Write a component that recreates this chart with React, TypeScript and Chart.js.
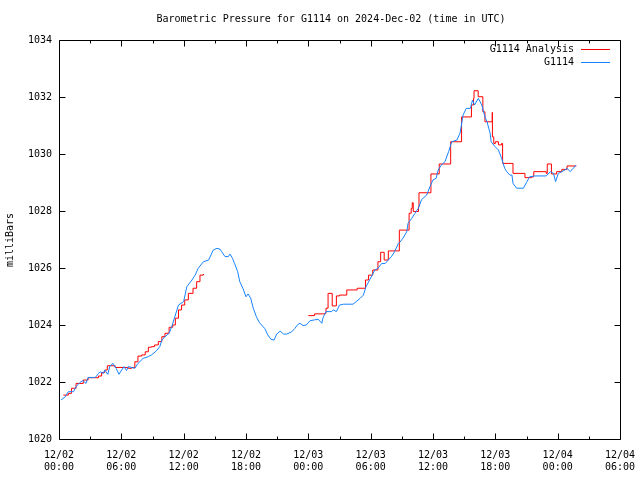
import React, { useEffect, useRef } from 'react';
import { Chart, registerables } from 'chart.js';

Chart.register(...registerables);

const TITLE = 'Barometric Pressure for G1114 on 2024-Dec-02 (time in UTC)';
const Y_LABEL = 'milliBars';
const ANALYSIS_LABEL = 'G1114 Analysis';
const OBS_LABEL = 'G1114';
const ANALYSIS_COLOR = '#ff0000';
const OBS_COLOR = '#1583ff';

// x axis: hours since 2024-12-02 00:00 UTC
const X_MIN = 0;
const X_MAX = 54;
const DATE_LABELS = ['12/02', '12/02', '12/02', '12/02', '12/03', '12/03', '12/03', '12/03', '12/04', '12/04'];
const TIME_LABELS = ['00:00', '06:00', '12:00', '18:00', '00:00', '06:00', '12:00', '18:00', '00:00', '06:00'];
const Y_MIN = 1020;
const Y_MAX = 1034;
const Y_STEP = 2;

// [hour, mBar]; null marks the gap in the analysis
const analysisSeries: [number, number | null][] = [
  [0.42, 1021.54], [0.9, 1021.6], [1.2, 1021.78], [1.64, 1021.95], [2.0, 1021.95],
  [2.34, 1022.07], [2.8, 1022.15], [3.8, 1022.21], [4.1, 1022.33], [4.4, 1022.42],
  [4.65, 1022.57], [5.2, 1022.57], [5.4, 1022.51], [6.3, 1022.51], [6.67, 1022.48],
  [7.0, 1022.51], [7.3, 1022.71], [7.6, 1022.91], [7.96, 1022.95], [8.3, 1023.06],
  [8.6, 1023.22], [8.9, 1023.24], [9.2, 1023.3], [9.56, 1023.42], [9.9, 1023.59],
  [10.2, 1023.71], [10.6, 1023.92], [10.95, 1024.0], [11.2, 1024.24], [11.5, 1024.53],
  [11.8, 1024.7], [12.1, 1024.88], [12.45, 1025.11], [12.9, 1025.29], [13.25, 1025.52],
  [13.57, 1025.75], [13.9, 1025.79],
  [19.0, null],
  [24.0, 1024.33], [24.6, 1024.39], [25.6, 1024.41], [25.7, 1024.59], [25.9, 1025.11],
  [26.3, 1024.67], [26.7, 1025.02], [27.0, 1025.05], [27.7, 1025.23], [28.7, 1025.29],
  [29.5, 1025.58], [29.8, 1025.75], [30.2, 1025.93], [30.7, 1026.22], [30.96, 1026.55],
  [31.3, 1026.28], [31.7, 1026.6], [32.76, 1027.33], [33.7, 1027.92], [33.9, 1028.09],
  [34.0, 1028.29], [34.1, 1027.98], [34.6, 1028.15], [34.65, 1028.64], [35.8, 1029.3],
  [36.6, 1029.65], [37.7, 1030.43], [38.75, 1031.3], [39.7, 1031.72], [39.9, 1031.95],
  [39.95, 1032.22], [40.35, 1032.01], [40.8, 1031.48], [41.0, 1031.13], [41.7, 1031.46],
  [41.72, 1030.6], [41.85, 1030.37], [42.0, 1030.43], [42.3, 1030.32], [42.6, 1030.37],
  [42.7, 1029.67], [43.7, 1029.32], [44.85, 1029.17], [45.5, 1029.2], [45.7, 1029.38],
  [46.9, 1029.32], [47.0, 1029.65], [47.4, 1029.3], [47.9, 1029.38], [48.4, 1029.46],
  [48.9, 1029.58], [49.8, 1029.58],
];

const obsSeries: [number, number][] = [
  [0.2, 1021.37], [0.6, 1021.48], [0.9, 1021.66], [1.4, 1021.66], [1.65, 1021.84],
  [2.0, 1021.98], [2.3, 1022.05], [2.6, 1021.95], [2.8, 1022.16], [3.5, 1022.16],
  [3.8, 1022.3], [3.95, 1022.36], [4.27, 1022.3], [4.4, 1022.42], [4.7, 1022.27],
  [4.9, 1022.56], [5.2, 1022.65], [5.5, 1022.48], [5.77, 1022.27], [6.03, 1022.42],
  [6.26, 1022.54], [6.5, 1022.4], [6.67, 1022.54], [7.3, 1022.48], [7.6, 1022.65],
  [8.1, 1022.83], [8.6, 1022.89], [8.9, 1022.95], [9.4, 1023.1], [9.7, 1023.24],
  [9.9, 1023.47], [10.2, 1023.59], [10.6, 1023.71], [10.85, 1023.94], [11.2, 1024.35],
  [11.5, 1024.7], [12.0, 1024.82], [12.3, 1025.34], [12.8, 1025.58], [13.1, 1025.75],
  [13.4, 1025.99], [13.9, 1026.22], [14.4, 1026.28], [14.85, 1026.63], [15.2, 1026.69],
  [15.5, 1026.66], [15.66, 1026.57], [15.98, 1026.4], [16.3, 1026.4], [16.46, 1026.49],
  [16.7, 1026.34], [16.9, 1026.16], [17.2, 1025.87], [17.4, 1025.52], [17.7, 1025.29],
  [18.0, 1024.99], [18.2, 1025.09], [18.45, 1024.94], [18.7, 1024.59], [19.0, 1024.29],
  [19.3, 1024.08], [19.8, 1023.88], [20.1, 1023.65], [20.4, 1023.5], [20.7, 1023.47],
  [20.95, 1023.68], [21.3, 1023.79], [21.6, 1023.68], [21.9, 1023.68], [22.4, 1023.76],
  [22.7, 1023.88], [23.0, 1024.02], [23.2, 1024.06], [23.5, 1023.98], [23.8, 1024.0],
  [24.16, 1024.15], [24.6, 1024.18], [24.96, 1024.2], [25.3, 1024.06], [25.4, 1024.24],
  [25.7, 1024.47], [26.25, 1024.47], [26.4, 1024.53], [26.7, 1024.47], [27.0, 1024.7],
  [27.4, 1024.73], [28.3, 1024.73], [28.6, 1024.82], [29.0, 1024.94], [29.3, 1025.05],
  [29.55, 1025.34], [29.9, 1025.58], [30.4, 1025.93], [30.7, 1025.99], [31.06, 1026.16],
  [31.4, 1026.16], [31.7, 1026.28], [32.0, 1026.4], [32.3, 1026.57], [32.66, 1026.86],
  [32.8, 1026.9], [33.1, 1027.04], [33.47, 1027.27], [33.6, 1027.57], [33.95, 1027.74],
  [34.27, 1027.92], [34.6, 1028.1], [34.9, 1028.4], [35.4, 1028.56], [35.7, 1028.85],
  [36.0, 1029.09], [36.3, 1029.15], [36.5, 1029.44], [36.8, 1029.61], [37.15, 1029.73],
  [37.5, 1030.08], [37.8, 1030.43], [38.3, 1030.49], [38.6, 1030.73], [38.9, 1031.37],
  [39.2, 1031.6], [39.6, 1031.6], [39.8, 1031.89], [40.0, 1031.72], [40.36, 1031.95],
  [40.7, 1031.72], [41.0, 1031.3], [41.2, 1031.13], [41.5, 1030.73], [41.6, 1030.43],
  [41.97, 1030.26], [42.3, 1030.14], [42.6, 1029.85], [42.9, 1029.5], [43.1, 1029.38],
  [43.4, 1029.26], [43.6, 1029.26], [43.7, 1028.97], [44.05, 1028.8], [44.7, 1028.8],
  [45.0, 1029.0], [45.3, 1029.2], [45.8, 1029.23], [46.9, 1029.23], [47.3, 1029.38],
  [47.6, 1029.32], [47.8, 1029.03], [48.06, 1029.32], [48.4, 1029.38], [48.7, 1029.44],
  [48.9, 1029.5], [49.2, 1029.38], [49.5, 1029.5], [49.76, 1029.61],
];

const FONT = '"DejaVu Sans Mono", monospace';

const framePlugin = {
  id: 'gnuplotFrame',
  afterDraw(chart: any) {
    const { ctx, chartArea, scales } = chart;
    const xs = scales.x;
    const ys = scales.y;
    const L = Math.round(chartArea.left) + 0.5;
    const R = Math.round(chartArea.right) + 0.5;
    const T = Math.round(chartArea.top) + 0.5;
    const B = Math.round(chartArea.bottom) + 0.5;
    ctx.save();
    ctx.strokeStyle = '#000';
    ctx.lineWidth = 1;
    ctx.beginPath();
    ctx.rect(L, T, R - L, B - T);
    // y ticks (left and right, inward)
    for (let v = Y_MIN; v <= Y_MAX; v += Y_STEP) {
      const py = Math.round(ys.getPixelForValue(v)) + 0.5;
      ctx.moveTo(L, py); ctx.lineTo(L + 6, py);
      ctx.moveTo(R, py); ctx.lineTo(R - 6, py);
    }
    // x ticks, major every 6 h, minor every 3 h (bottom and top, inward)
    for (let h = X_MIN; h <= X_MAX; h += 3) {
      const px = Math.round(xs.getPixelForValue(h)) + 0.5;
      const len = h % 6 === 0 ? 6 : 3;
      ctx.moveTo(px, B); ctx.lineTo(px, B - len);
      ctx.moveTo(px, T); ctx.lineTo(px, T + len);
    }
    ctx.stroke();

    // title
    ctx.fillStyle = '#000';
    ctx.font = '10px ' + FONT;
    ctx.textAlign = 'center';
    ctx.textBaseline = 'middle';
    ctx.fillText(TITLE, 331, 19);

    // y axis label
    ctx.save();
    ctx.translate(10, 240);
    ctx.rotate(-Math.PI / 2);
    ctx.fillText(Y_LABEL, 0, 0);
    ctx.restore();

    // legend (gnuplot style, top right, text left of the sample)
    const entries = chart.data.datasets;
    entries.forEach((ds: any, i: number) => {
      const yy = 49 + i * 13;
      ctx.textAlign = 'right';
      ctx.fillStyle = '#000';
      ctx.fillText(ds.label, 574, yy);
      ctx.strokeStyle = ds.borderColor;
      ctx.beginPath();
      ctx.moveTo(581, yy + 0.5);
      ctx.lineTo(610, yy + 0.5);
      ctx.stroke();
    });
    ctx.restore();
  },
};

export default function App() {
  const ref = useRef<HTMLCanvasElement | null>(null);

  useEffect(() => {
    if (!ref.current) return;
    const chart = new Chart(ref.current, {
      type: 'line',
      data: {
        datasets: [
          {
            label: ANALYSIS_LABEL,
            data: analysisSeries.map(([x, y]) => ({ x, y })),
            borderColor: ANALYSIS_COLOR,
            backgroundColor: ANALYSIS_COLOR,
            borderWidth: 1,
            pointRadius: 0,
            stepped: 'before',
            spanGaps: false,
            order: 1,
          },
          {
            label: OBS_LABEL,
            data: obsSeries.map(([x, y]) => ({ x, y })),
            borderColor: OBS_COLOR,
            backgroundColor: OBS_COLOR,
            borderWidth: 1,
            pointRadius: 0,
            tension: 0,
            order: 0,
          },
        ],
      },
      options: {
        responsive: false,
        animation: false,
        devicePixelRatio: 1,
        layout: { padding: { left: 0, top: 40, right: 20, bottom: 0 } },
        plugins: {
          legend: { display: false },
          title: { display: false },
          tooltip: { enabled: false },
        },
        scales: {
          x: {
            type: 'linear',
            min: X_MIN,
            max: X_MAX,
            grid: { display: false, drawTicks: false },
            border: { display: false },
            ticks: {
              stepSize: 6,
              autoSkip: false,
              maxRotation: 0,
              padding: 10,
              color: '#000',
              font: { family: FONT, size: 10, lineHeight: 1.2 },
              callback: (v: any) => {
                const i = Math.round(Number(v) / 6);
                return [DATE_LABELS[i], TIME_LABELS[i]];
              },
            },
            afterFit: (s: any) => {
              s.height = 41;
              s.paddingLeft = 0;
              s.paddingRight = 0;
            },
          },
          y: {
            type: 'linear',
            min: Y_MIN,
            max: Y_MAX,
            grid: { display: false, drawTicks: false },
            border: { display: false },
            ticks: {
              stepSize: Y_STEP,
              padding: 7,
              color: '#000',
              font: { family: FONT, size: 10 },
              callback: (v: any) => String(v),
            },
            afterFit: (s: any) => {
              s.width = 59;
              s.paddingTop = 0;
              s.paddingBottom = 0;
            },
          },
        },
      },
      plugins: [framePlugin],
    });
    return () => chart.destroy();
  }, []);

  return (
    <div style={{ position: 'fixed', left: 0, top: 0, width: 640, height: 480, background: '#fff' }}>
      <canvas ref={ref} width={640} height={480} style={{ width: 640, height: 480, display: 'block' }} />
    </div>
  );
}
